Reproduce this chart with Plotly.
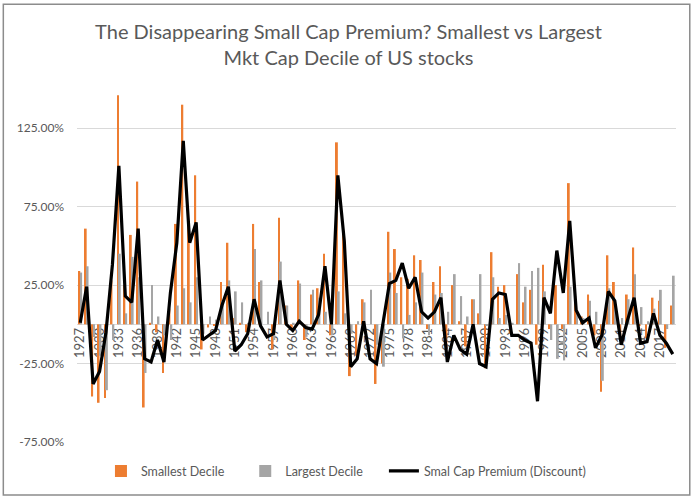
import plotly.graph_objects as go

# years shown on the category axis
years = list(range(1927, 2020))

# annual returns in percent
smallest = [34, 61, -46, -50, -47, 28, 146, 25, 57, 91,
	-53, 1, -5, -31, 10, 64, 140, 66, 95, -16,
	-2, -1, 27, 52, 4, 1, -5, 64, 27, 0,
	-16, 68, 12, -3, 28, -10, 19, 23, 45, -7,
	116, 60, -33, -20, 16, 0, -38, -25, 59, 48,
	30, 29, 44, 41, -3, 27, 37, -16, 25, 2,
	-14, 16, 7, -28, 46, 24, 25, -6, 32, 14,
	22, -13, 38, -3, 25, -3, 90, 18, 5, 19,
	-7, -43, 44, 27, -9, 19, 49, -1, -9, 17,
	15, -15, 12]

largest = [33, 37, -8, -20, -42, -10, 45, 7, 43, 30,
	-31, 25, 5, -7, -10, 12, 23, 14, 30, -6,
	5, 3, 15, 28, 21, 14, 1, 48, 28, 8,
	-10, 40, 12, 1, 26, -8, 22, 17, 8, -7,
	21, 7, -6, 2, 14, 22, -13, -27, 33, 20,
	-9, 6, 14, 33, -7, 19, 20, 8, 32, 18,
	5, 16, 32, -1, 30, 4, 6, 1, 39, 24,
	34, 36, 21, -10, -22, -23, 24, 9, 4, 15,
	8, -36, 23, 12, 4, 16, 32, 11, 2, 10,
	22, -3, 31]

premium = [1, 24, -38, -30, -5, 38, 101, 18, 14, 61,
	-22, -24, -10, -24, 20, 52, 117, 52, 65, -10,
	-7, -4, 12, 24, -17, -13, -6, 16, -1, -8,
	-6, 28, 0, -4, 2, -2, -3, 6, 37, 0,
	95, 53, -27, -22, 2, -22, -25, 2, 26, 28,
	39, 23, 30, 8, 4, 8, 17, -24, -7, -16,
	-19, 0, -25, -27, 16, 20, 19, -7, -7, -10,
	-12, -49, 17, 7, 47, 20, 66, 9, 1, 4,
	-15, -7, 21, 15, -13, 3, 17, -12, -11, 7,
	-7, -12, -19]

ytick_vals = [-75, -25, 25, 75, 125]
ytick_text = ["-75.00%", "-25.00%", "25.00%", "75.00%", "125.00%"]

fnt = "Lato, 'DejaVu Sans', sans-serif"
txt_col = "#595959"
pad = "\u00a0" * 5  # widens the first two legend entries like the original

fig = go.Figure(data=[
	go.Bar(x=years, y=smallest, name="Smallest Decile" + pad, marker_color="#ED7D31", marker_line_width=0),
	go.Bar(x=years, y=largest, name="Largest Decile" + pad, marker_color="#A5A5A5", marker_line_width=0),
	go.Scatter(x=years, y=premium, name="Smal Cap Premium (Discount)", mode="lines",
		line=dict(color="black", width=3.2)),
])

# y range -75..150, zero sits at 1/3 of the plot height
fig.update_layout(
	width=697,
	height=499,
	autosize=False,
	plot_bgcolor="white",
	paper_bgcolor="white",
	barmode="group",
	bargap=0.42,
	bargroupgap=0,
	font=dict(family=fnt, color=txt_col),
	title=dict(
		text="The Disappearing Small Cap Premium? Smallest vs Largest<br>Mkt Cap Decile of US stocks",
		x=0.5, xref="container", xanchor="center",
		y=0.921, yref="container", yanchor="middle",
		font=dict(family=fnt, size=20, color=txt_col),
	),
	legend=dict(
		orientation="h",
		x=0.04, xanchor="left",
		y=-0.083, yanchor="middle",
		font=dict(family=fnt, size=12.5, color=txt_col),
		bgcolor="rgba(0,0,0,0)",
		traceorder="normal",
	),
	xaxis=dict(
		range=[1926.5, 2019.5],
		tickmode="linear",
		tick0=1927,
		dtick=3,
		tickangle=-90,
		showgrid=False,
		showline=False,
		ticks="",
		anchor="free",
		position=1 / 3,
		layer="below traces",
		tickfont=dict(family=fnt, size=13, color=txt_col),
	),
	yaxis=dict(
		range=[-75, 150],
		tickvals=ytick_vals,
		ticktext=ytick_text,
		showgrid=True,
		gridcolor="#D9D9D9",
		gridwidth=1,
		zeroline=True,
		zerolinecolor="#D9D9D9",
		zerolinewidth=1,
		showline=False,
		ticklabelstandoff=12,
		tickfont=dict(family=fnt, size=12, color=txt_col),
	),
	margin=go.layout.Margin(l=77, r=21, t=89, b=57, autoexpand=False),
	showlegend=True,
)

# outer chart frame
fig.add_shape(type="rect", xref="paper", yref="paper",
	x0=-0.123, x1=1.023, y0=-0.15, y1=1.24,
	line=dict(color="#8C8C8C", width=1.5), fillcolor="rgba(0,0,0,0)", layer="above")

# page body has a default 8px margin, drop it so the chart sits at 0,0
fig.write_html("out.html", config={"displayModeBar": False},
	post_script="document.body.style.margin='0px';")
